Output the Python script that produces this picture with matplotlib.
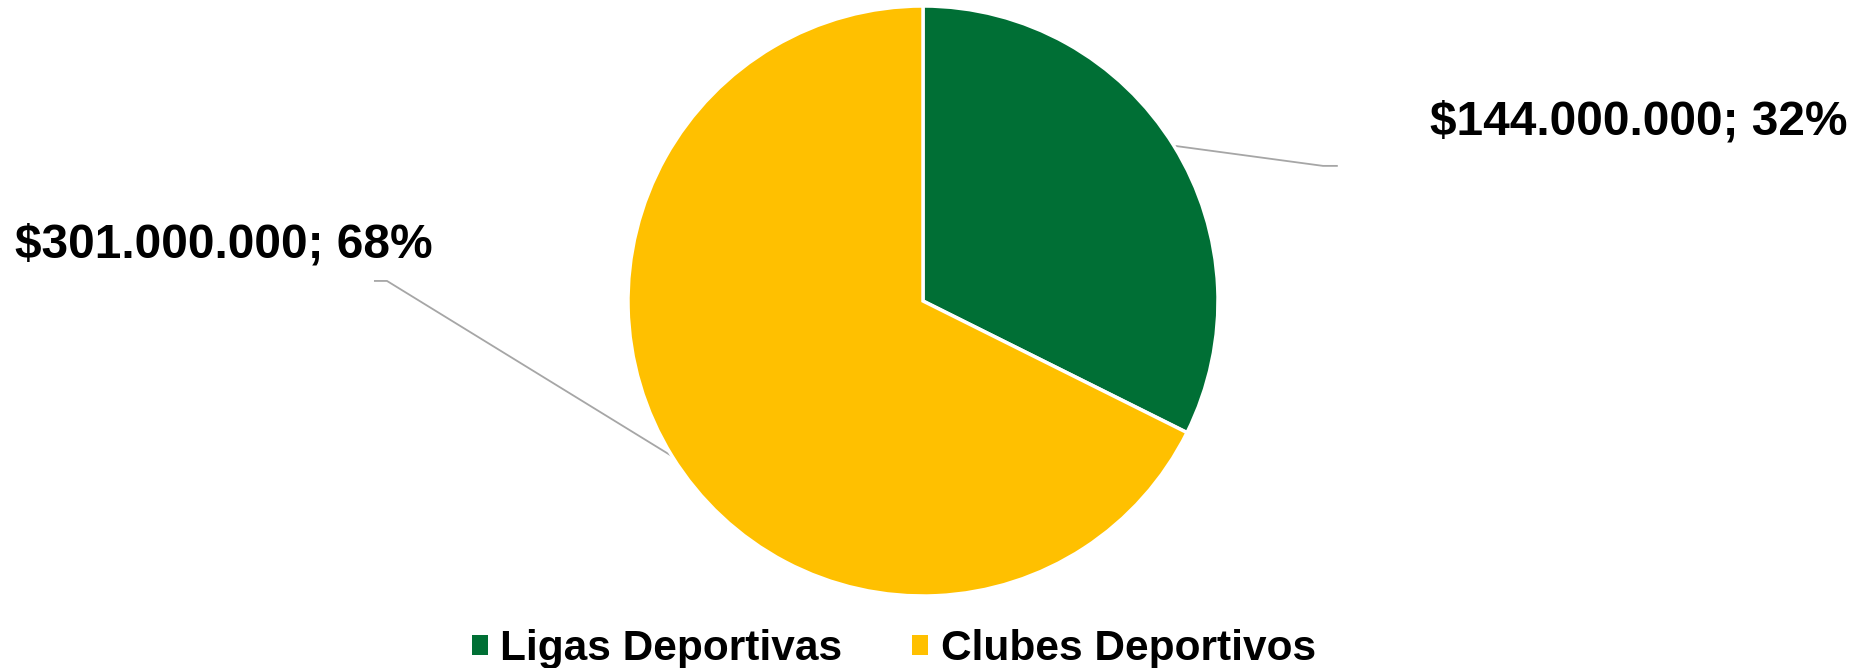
import matplotlib
matplotlib.use("Agg")
import matplotlib.pyplot as plt
import numpy as np

categories = ["Ligas Deportivas", "Clubes Deportivos"]
values = [144000000, 301000000]
label_texts = ["$144.000.000; 32%", "$301.000.000; 68%"]
colors = ["#006F35", "#FFC000"]

plt.rcParams['font.family'] = ['Liberation Sans', 'DejaVu Sans']

W, H = 1857, 668
fig = plt.figure(figsize=(W / 100, H / 100), dpi=100)
cx, cy, r = 923, 301, 295
ax = fig.add_axes([(cx - r) / W, (H - cy - r) / H, 2 * r / W, 2 * r / H])
wedges, _ = ax.pie(values, colors=colors, startangle=90, counterclock=False,
                   wedgeprops=dict(edgecolor="white", linewidth=2.5))
ax.set_xlim(-1, 1)
ax.set_ylim(-1, 1)
ax.set_aspect("equal")

# label placements (layout) in data units relative to pie
elbows = [(1.356, 0.458), (-1.817, 0.068)]
ends = [(1.403, 0.458), (-1.858, 0.068)]
text_pos = [(1.719, 0.563, "left"), (-1.661, 0.146, "right")]
for w, el, en, tp, txt in zip(wedges, elbows, ends, text_pos, label_texts):
    ang = np.deg2rad((w.theta1 + w.theta2) / 2)
    x0, y0 = np.cos(ang), np.sin(ang)
    ax.plot([x0, el[0], en[0]], [y0, el[1], en[1]], color="#A6A6A6",
            lw=1.3, clip_on=False, zorder=0)
    ax.text(tp[0], tp[1], txt, ha=tp[2], va="baseline", fontsize=34.5,
            fontweight="bold", color="black", clip_on=False)

leg = fig.legend(wedges, categories, loc="center",
                 bbox_to_anchor=(894 / W, 1 - 649 / H),
                 ncol=2, frameon=False, handlelength=0.37,
                 handleheight=0.37, handletextpad=0.3, columnspacing=1.65,
                 prop=dict(weight="bold", size=30.5))
for h in leg.legend_handles:
    h.set_edgecolor("none")

fig.savefig("out.png", dpi=100, facecolor="white")
